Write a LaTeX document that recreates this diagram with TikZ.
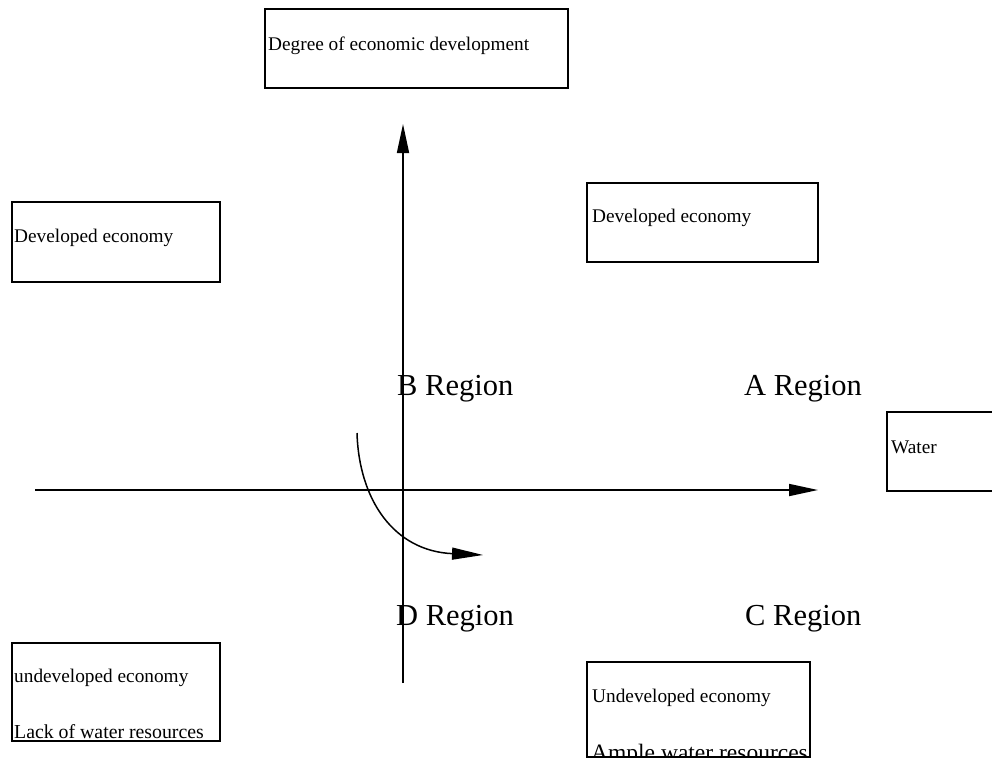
\documentclass[tikz,border=0pt]{standalone}
\usepackage{fontspec}
\setmainfont{Liberation Serif}
\usetikzlibrary{arrows.meta}
\begin{document}
\begin{tikzpicture}[x=1pt,y=-1pt,
  box/.style={draw,line width=1.7pt,inner sep=0pt,outer sep=0pt,anchor=north west},
  small/.style={inner sep=0pt,anchor=base west,font=\fontsize{19.3}{20}\selectfont},
  region/.style={inner sep=0pt,anchor=base west,font=\fontsize{30.5}{31}\selectfont},
  axis/.style={line width=1.7pt,-{Triangle[length=29pt,width=12pt]}}]
\clip (0,0) rectangle (992,764);
\fill[white] (0,0) rectangle (992,764);

% boxes
\node[box,minimum width=303pt,minimum height=79pt] (topbox) at (265,9) {};
\node[small] (toptext) at (268,50) {Degree of economic development};

\node[box,minimum width=208pt,minimum height=80pt] (devleft) at (12,202) {};
\node[small] (devlefttext) at (14,242) {Developed economy};

\node[box,minimum width=231pt,minimum height=79pt] (devright) at (587,183) {};
\node[small] (devrighttext) at (592,222) {Developed economy};

\node[box,minimum width=112pt,minimum height=79pt] (waterbox) at (887,412) {};
\node[small] (watertext) at (891,453) {Water};

\node[box,minimum width=208pt,minimum height=98pt] (undevleft) at (12,643) {};
\node[small] (undevlefttext) at (14,682) {undeveloped economy};
\node[small,font=\fontsize{19.8}{20}\selectfont] (lacktext) at (14,738) {Lack of water resources};

\begin{scope}
  \clip (587,662) rectangle (810,757);
  \node[small,font=\fontsize{23.5}{24}\selectfont] (ampletext) at (591,760) {Ample water resources};
\end{scope}
\node[box,minimum width=223pt,minimum height=95pt] (undevright) at (587,662) {};
\node[small] (undevrighttext) at (592,702) {Undeveloped economy};

% axes
\coordinate (vbot) at (403,683);
\coordinate (vtop) at (403,124);
\draw[axis] (vbot) -- (vtop);
\coordinate (hleft) at (35,490);
\coordinate (hright) at (818,490);
\draw[axis] (hleft) -- (hright);

% region labels
\node[region] (regB) at (397,395) {B Region};
\node[region] (regA) at (744,395) {A Region};
\node[region] (regD) at (396,625) {D Region};
\node[region] (regC) at (745,625) {C Region};

% curved arrow
\coordinate (cstart) at (357,433);
\coordinate (cend) at (483,555);
\draw[line width=1.5pt,-{Triangle[length=31pt,width=12pt]}]
  (cstart) .. controls (359,500) and (394,551) .. (cend);
\end{tikzpicture}
\end{document}
